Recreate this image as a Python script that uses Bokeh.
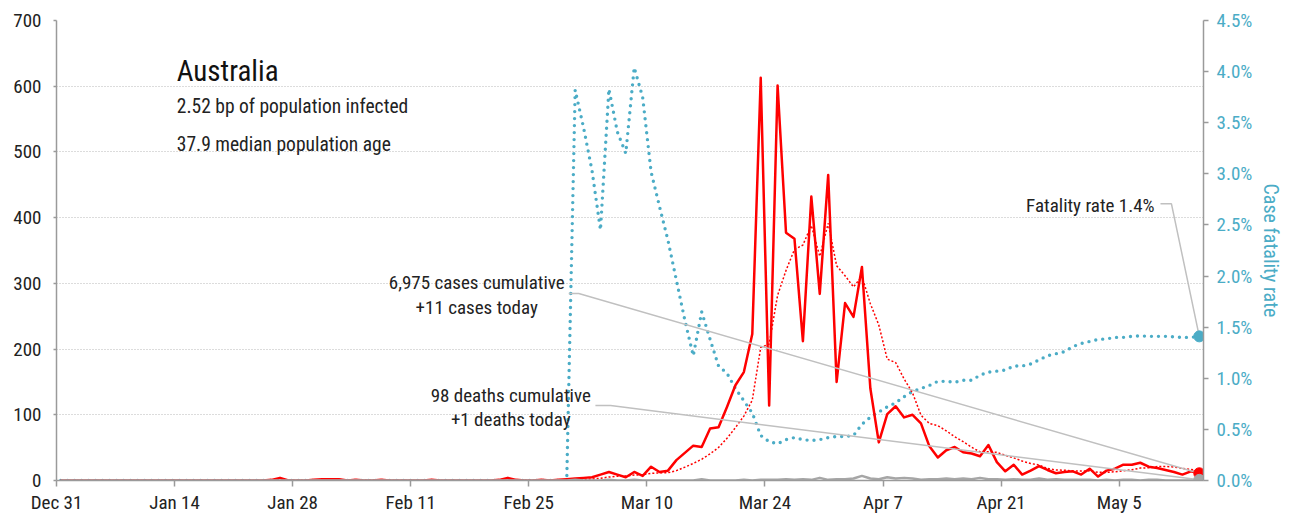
import pandas as pd
from bokeh.plotting import figure
from bokeh.models import Range1d, LinearAxis, FixedTicker, PrintfTickFormatter, Label
from bokeh.embed import file_html
from bokeh.resources import INLINE

# ---------------- data ----------------
start_date = "2019-12-31"
end_date = "2020-05-14"
dates = pd.date_range(start_date, end_date, freq="D")

daily_cases = [
    0, 0, 0, 0, 0, 0, 0, 0, 0, 0, 0, 0, 0, 0, 0, 0, 0, 0, 0, 0, 0, 0, 0, 0, 0,
    1, 4, 0, 0, 0, 1, 2, 2, 2, 0, 1, 0, 0, 1, 0, 0, 0, 0, 0, 1, 0, 0, 0, 0, 0,
    0, 0, 1, 4, 1, 0, 0, 1, 0, 1,
    2, 3, 4, 5, 9, 13, 9, 5, 13, 7, 21, 13, 15, 31, 42, 53, 51, 79, 81, 112,
    145, 165, 223, 613, 114, 601, 377, 368, 212, 432, 284, 465, 150, 270, 249,
    325, 140, 58, 101, 113, 96, 100, 87, 52, 35, 46, 51, 43, 41, 37, 54, 28, 14,
    24, 9, 15, 22, 16, 11, 13, 14, 9, 18, 6, 15, 18, 24, 24, 27, 21, 19, 16, 13,
    9, 14, 11,
]

cases_7day_avg = [
    0, 0, 0, 0, 0, 0, 0, 0, 0, 0, 0, 0, 0, 0, 0, 0, 0, 0, 0, 0, 0, 0, 0, 0, 0,
    0.14, 0.71, 0.71, 0.71, 0.71, 0.86, 1.14, 1.29, 1.0, 1.0, 1.14, 1.14, 1.0,
    0.86, 0.57, 0.29, 0.29, 0.14, 0.14, 0.29, 0.14, 0.14, 0.14, 0.14, 0.14,
    0.14, 0, 0.14, 0.71, 0.86, 0.86, 0.86, 1.0, 1.0, 1.0,
    0.71, 1.0, 1.57, 2.29, 3.43, 5.29, 6.43, 6.86, 8.29, 8.71, 11.0, 11.57,
    11.86, 15.0, 20.29, 26.0, 32.29, 40.57, 50.29, 64.14, 80.43, 98.0, 122.29,
    202.57, 207.57, 281.86, 319.71, 351.57, 358.29, 388.14, 341.14, 391.29,
    326.86, 311.57, 294.57, 310.71, 269.0, 236.71, 184.71, 179.43, 154.57,
    133.29, 99.29, 86.71, 83.43, 75.57, 66.71, 59.14, 50.71, 43.57, 43.86,
    42.86, 38.29, 34.43, 29.57, 25.86, 23.71, 18.29, 15.86, 15.71, 14.29, 14.29,
    14.71, 12.43, 12.29, 13.29, 14.86, 16.29, 18.86, 19.29, 21.14, 21.29, 20.57,
    18.43, 17.0, 14.71,
]

daily_deaths = [
    0, 0, 0, 0, 0, 0, 0, 0, 0, 0, 0, 0, 0, 0, 0, 0, 0, 0, 0, 0,
    0, 0, 0, 0, 0, 0, 0, 0, 0, 0, 0, 0, 0, 0, 0, 0, 0, 0, 0, 0,
    0, 0, 0, 0, 0, 0, 0, 0, 0, 0, 0, 0, 0, 0, 0, 0, 0, 0, 0, 0,
    0, 1, 0, 0, 0, 1, 0, 0, 1, 0,
    0, 0, 0, 0, 0, 0, 2, 0, 0, 0,
    0, 1, 0, 1, 1, 1, 2, 1, 2, 1,
    4, 1, 2, 2, 3, 7, 3, 2, 5, 3,
    4, 3, 1, 2, 2, 3, 2, 3, 2, 4,
    2, 2, 1, 2, 1, 1, 3, 1, 2, 1,
    1, 1, 1, 0, 1, 0, 1, 1, 0, 1,
    1, 0, 0, 0, 0, 1,
]

fatality_rate_pct = [
    0, 0, 0, 0, 0, 0, 0, 0, 0, 0, 0, 0, 0, 0, 0, 0, 0, 0, 0, 0,
    0, 0, 0, 0, 0, 0, 0, 0, 0, 0, 0, 0, 0, 0, 0, 0, 0, 0, 0, 0,
    0, 0, 0, 0, 0, 0, 0, 0, 0, 0, 0, 0, 0, 0, 0, 0, 0, 0, 0, 0,
    0, 3.82, 3.45, 3.03, 2.45, 3.83, 3.41, 3.20, 4.04, 3.75,
    3.02, 2.68, 2.35, 1.96, 1.57, 1.22, 1.65, 1.38, 1.12, 1.05,
    0.90, 0.78, 0.66, 0.44, 0.38, 0.36, 0.40, 0.42, 0.40, 0.39,
    0.40, 0.42, 0.43, 0.43, 0.44, 0.55, 0.62, 0.67, 0.72, 0.76,
    0.82, 0.87, 0.90, 0.93, 0.97, 0.97, 0.96, 0.98, 0.98, 1.03,
    1.06, 1.07, 1.08, 1.12, 1.12, 1.14, 1.18, 1.22, 1.24, 1.26,
    1.31, 1.34, 1.36, 1.38, 1.385, 1.40, 1.40, 1.41, 1.415, 1.41,
    1.41, 1.41, 1.405, 1.40, 1.40, 1.41,
]

tick_labels = ["Dec 31", "Jan 14", "Jan 28", "Feb 11", "Feb 25",
               "Mar 10", "Mar 24", "Apr 7", "Apr 21", "May 5"]
tick_dates = ["2019-12-31", "2020-01-14", "2020-01-28", "2020-02-11", "2020-02-25",
              "2020-03-10", "2020-03-24", "2020-04-07", "2020-04-21", "2020-05-05"]
left_ticks = [0, 100, 200, 300, 400, 500, 600, 700]
right_ticks = [0, 0.5, 1.0, 1.5, 2.0, 2.5, 3.0, 3.5, 4.0, 4.5]

country = "Australia"
subtitle_1 = "2.52 bp of population infected"
subtitle_2 = "37.9 median population age"
cum_cases_text = "6,975 cases cumulative"
today_cases_text = "+11 cases today"
cum_deaths_text = "98 deaths cumulative"
today_deaths_text = "+1 deaths today"
fatality_text = "Fatality rate 1.4%"

# ---------------- layout helpers ----------------
t0 = pd.Timestamp(start_date)
x = [(d - t0).days + 0.5 for d in dates]          # points drawn at mid-day
tick_pos = [(pd.Timestamp(t) - t0).days for t in tick_dates]
x_end = (pd.Timestamp(end_date) - t0).days + 1

FONT = "Roboto Condensed, DejaVu Sans Condensed, Liberation Sans Narrow, Roboto, sans-serif"
RED = "#ff0000"
TEAL = "#4bacc6"
GREY = "#a6a6a6"
LEAD = "#c0c0c0"
AXIS = "#9a9a9a"

W, H = 1293, 516
p = figure(width=W, height=H, output_backend="svg", toolbar_location=None,
           x_range=Range1d(0, x_end), y_range=Range1d(0, 700),
           min_border_left=56, min_border_right=90, min_border_top=20,
           min_border_bottom=36)
p.outline_line_color = None
p.background_fill_color = "white"
p.border_fill_color = "white"

p.extra_y_ranges = {"cfr": Range1d(0, 4.5)}

# axes
p.xaxis.ticker = FixedTicker(ticks=tick_pos)
p.xaxis.major_label_overrides = {tp: lab for tp, lab in zip(tick_pos, tick_labels)}
p.yaxis.ticker = FixedTicker(ticks=left_ticks)
for ax in (p.xaxis[0], p.yaxis[0]):
    ax.axis_line_color = AXIS
    ax.axis_line_width = 1.5
    ax.major_tick_line_color = AXIS
    ax.major_tick_line_width = 1.5
    ax.major_tick_in = 0
    ax.minor_tick_line_color = None
    ax.major_label_text_font = FONT
    ax.major_label_text_font_size = "19px"
    ax.major_label_text_color = "#222222"
p.xaxis.major_tick_out = 6
p.xaxis.major_label_standoff = 4
p.yaxis.major_tick_out = 3
p.yaxis.major_label_standoff = 12

rax = LinearAxis(y_range_name="cfr", ticker=FixedTicker(ticks=right_ticks),
                 formatter=PrintfTickFormatter(format="%.1f%%"),
                 axis_label="Case fatality rate")
rax.axis_line_color = AXIS
rax.axis_line_width = 1.5
rax.major_tick_line_color = AXIS
rax.major_tick_line_width = 1.5
rax.major_tick_in = 0
rax.major_tick_out = 5
rax.minor_tick_line_color = None
rax.major_label_standoff = 8
rax.major_label_text_font = FONT
rax.major_label_text_font_size = "19px"
rax.major_label_text_color = TEAL
rax.axis_label_text_font = FONT
rax.axis_label_text_font_size = "20px"
rax.axis_label_text_font_style = "normal"
rax.axis_label_text_color = TEAL
rax.axis_label_standoff = 4
p.add_layout(rax, "right")

p.xgrid.visible = False
p.ygrid.ticker = FixedTicker(ticks=left_ticks[1:])
p.ygrid.grid_line_color = "#b8b8b8"
p.ygrid.grid_line_dash = "1 2"
p.ygrid.grid_line_width = 1

# series
p.line(x, fatality_rate_pct, y_range_name="cfr", line_color=TEAL, line_width=3.4,
       line_dash="0 7", line_cap="round")
p.line(x, cases_7day_avg, line_color=RED, line_width=1.5, line_dash="2 2")
p.line(x, daily_cases, line_color=RED, line_width=2.5, line_join="round")
p.line(x, daily_deaths, line_color=GREY, line_width=2.5, line_join="round")

last_x = x[-1]
# leader lines
p.line([60.73, 61.92, last_x], [284.6, 284.6, daily_cases[-1]], line_color=LEAD, line_width=1.5)
p.line([63.9, 65.7, last_x], [114.1, 114.1, daily_deaths[-1]], line_color=LEAD, line_width=1.5)
p.line([130.9, 132.2, last_x], [2.707, 2.707, fatality_rate_pct[-1]], y_range_name="cfr",
       line_color=LEAD, line_width=1.5)

# end markers
p.scatter([last_x], [daily_cases[-1]], size=11, color=RED)
p.scatter([last_x], [daily_deaths[-1]], size=11, color=GREY)
p.scatter([last_x], [fatality_rate_pct[-1]], y_range_name="cfr", size=11, color=TEAL)

# texts
def lab(xv, yv, txt, size, align="left", color="#111111"):
    p.add_layout(Label(x=xv, y=yv, text=txt, text_font=FONT, text_font_size=size,
                       text_align=align, text_baseline="middle", text_color=color))

lab(14.26, 623.9, country, "29px")
lab(14.26, 568.5, subtitle_1, "19.5px", color="#222222")
lab(14.26, 511.3, subtitle_2, "19.5px", color="#222222")
lab(49.83, 301.3, cum_cases_text, "19px", "center", "#222222")
lab(49.83, 263.3, today_cases_text, "19px", "center", "#222222")
lab(53.86, 129.3, cum_deaths_text, "19px", "center", "#222222")
lab(53.86, 92.8, today_deaths_text, "19px", "center", "#222222")
lab(130.2, 418.5, fatality_text, "19px", "right", "#222222")

open("out.html", "w").write(file_html(p, INLINE))
